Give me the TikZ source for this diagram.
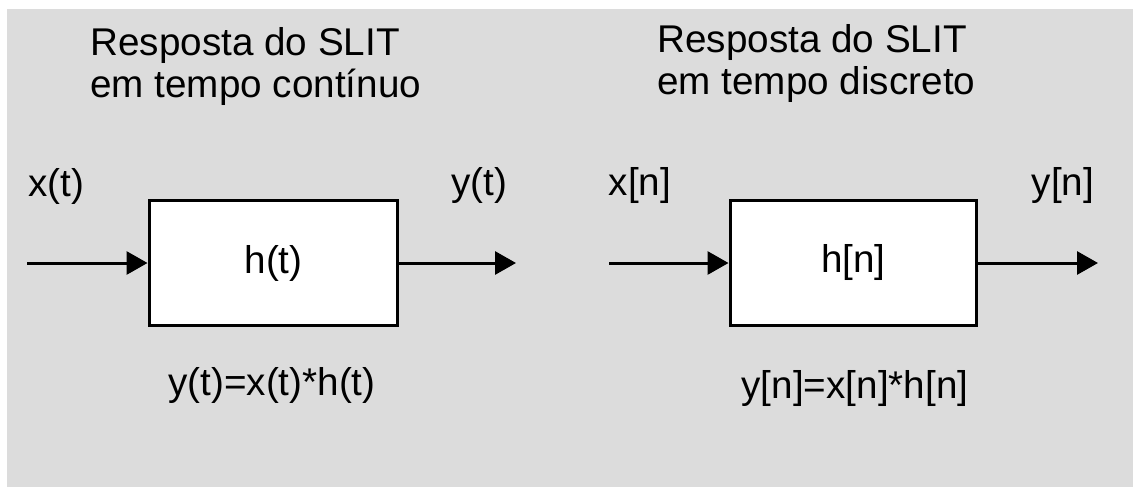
\documentclass[tikz,border=0pt]{standalone}
\usepackage{fontspec}
\setmainfont{Liberation Sans}
\usepackage{xcolor}
\definecolor{panelgray}{HTML}{DCDCDC}
\usetikzlibrary{arrows.meta, positioning}
\tikzset{
  sysbox/.style={rectangle, draw=black, line width=0.06cm, fill=white, inner sep=0pt,
                 minimum width=4.98cm, minimum height=2.52cm, font=\fontsize{22}{24}\selectfont},
  sigarr/.style={-{Triangle[length=0.42cm, width=0.46cm]}, line width=0.06cm, color=black},
  siglbl/.style={font=\fontsize{22}{24}\selectfont, inner sep=0pt},
  ttlbl/.style ={font=\fontsize{22}{24}\selectfont, inner sep=0pt, anchor=base west},
}
\begin{document}
\begin{tikzpicture}[x=0.02cm, y=-0.02cm]
  \useasboundingbox (0,0) rectangle (1133,487);
  \fill[panelgray] (7,9) rectangle (1133,487);

  % tempo continuo
  \node[ttlbl] (titCa) at (90,55) {Resposta do SLIT};
  \node[ttlbl] (titCb) at (90,97) {em tempo contínuo};
  \node[sysbox] (hC) at (273.5,263) {h(t)};
  \coordinate (inC) at (27,263);
  \coordinate (outC) at (516,263);
  \draw[sigarr] (inC) -- (hC.west);
  \draw[sigarr] (hC.east) -- (outC);
  \node[siglbl] (xC) at (56,186) {x(t)};
  \node[siglbl] (yC) at (479,186) {y(t)};
  \node[siglbl] (convC) at (272,386) {y(t)=x(t)*h(t)};

  % tempo discreto
  \node[ttlbl] (titDa) at (657,52) {Resposta do SLIT};
  \node[ttlbl] (titDb) at (657,94) {em tempo discreto};
  \node[sysbox, minimum width=4.94cm] (hD) at (853.5,263) {h[n]};
  \coordinate (inD) at (609,263);
  \coordinate (outD) at (1098,263);
  \draw[sigarr] (inD) -- (hD.west);
  \draw[sigarr] (hD.east) -- (outD);
  \node[siglbl] (xD) at (640,186) {x[n]};
  \node[siglbl] (yD) at (1063,186) {y[n]};
  \node[siglbl] (convD) at (855,389) {y[n]=x[n]*h[n]};
\end{tikzpicture}
\end{document}
